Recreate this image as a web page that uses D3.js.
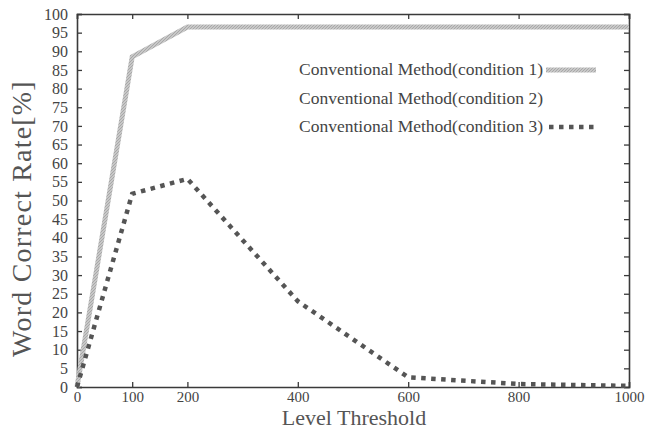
<!DOCTYPE html>
<html>
<head>
<meta charset="utf-8">
<script src="https://cdn.jsdelivr.net/npm/d3@7"></script>
<style>
  html, body { margin: 0; padding: 0; background: #fff; }
  svg { display: block; }
  text { font-family: "Liberation Serif", "DejaVu Serif", serif; }
</style>
</head>
<body>
<svg id="chart" width="649" height="430"></svg>
<script>
// Level thresholds and word correct rate [%] for each condition
const thresholds = [0, 100, 200, 400, 600, 800, 1000];
const condition1 = [0, 88.5, 96.5, 96.5, 96.5, 96.5, 96.5];
const condition3 = [0, 51.8, 55.8, 23, 2.6, 0.8, 0.3];
const xTicks = [0, 100, 200, 400, 600, 800, 1000];
const yTicks = d3.range(0, 101, 5);
const legendLabels = [
  "Conventional Method(condition 1)",
  "Conventional Method(condition 2)",
  "Conventional Method(condition 3)"
];

const svg = d3.select("#chart");
const margin = { left: 77, right: 20, top: 14, bottom: 43 };
const W = 649, H = 430;

const x = d3.scaleLinear().domain([0, 1000]).range([margin.left, W - margin.right]);
const y = d3.scaleLinear().domain([0, 100]).range([H - margin.bottom, margin.top]);

// hatched grey texture for the first series
const defs = svg.append("defs");
const pat = defs.append("pattern")
  .attr("id", "hatch")
  .attr("patternUnits", "userSpaceOnUse")
  .attr("width", 3).attr("height", 3);
pat.append("rect").attr("width", 3).attr("height", 3).attr("fill", "#c8c8c8");
pat.append("path").attr("d", "M0,3 L3,0").attr("stroke", "#a0a0a0").attr("stroke-width", 0.8);

const frameColor = "#3a3a3a";
const textColor = "#444";

// axes: labels outside, ticks pointing inward, mirrored on opposite sides
const gx = svg.append("g").attr("transform", `translate(0,${y(0)})`)
  .call(d3.axisBottom(x).tickValues(xTicks).tickSize(-5).tickPadding(4).tickFormat(d3.format("d")));
const gxTop = svg.append("g").attr("transform", `translate(0,${y(100)})`)
  .call(d3.axisTop(x).tickValues(xTicks).tickSize(-5).tickFormat(""));
const gy = svg.append("g").attr("transform", `translate(${x(0)},0)`)
  .call(d3.axisLeft(y).tickValues(yTicks).tickSize(-5).tickPadding(9).tickFormat(d3.format("d")));
const gyRight = svg.append("g").attr("transform", `translate(${x(1000)},0)`)
  .call(d3.axisRight(y).tickValues(yTicks).tickSize(-5).tickFormat(""));

[gx, gxTop, gy, gyRight].forEach(g => {
  g.select(".domain").attr("stroke", frameColor).attr("stroke-width", 1.6);
  g.selectAll(".tick line").attr("stroke", frameColor).attr("stroke-width", 1.3);
  g.selectAll(".tick text")
    .attr("fill", textColor)
    .style("font-family", '"Liberation Serif", serif')
    .style("font-size", "16px");
});
gx.selectAll(".tick text").style("font-size", "15px");

// axis titles
svg.append("text")
  .attr("x", (x(0) + x(1000)) / 2 + 1)
  .attr("y", 425)
  .attr("text-anchor", "middle")
  .attr("fill", "#555")
  .style("font-size", "22px")
  .text("Level Threshold");

svg.append("text")
  .attr("transform", `translate(31,${(y(0) + y(100)) / 2 + 18}) rotate(-90)`)
  .attr("text-anchor", "middle")
  .attr("fill", "#555")
  .style("font-size", "28px")
  .style("letter-spacing", "1.2px")
  .text("Word Correct Rate[%]");

// series lines
const line = d3.line().x(d => x(d[0])).y(d => y(d[1]));
const s1 = thresholds.map((t, i) => [t, condition1[i]]);
const s3 = thresholds.map((t, i) => [t, condition3[i]]);

svg.append("path")
  .datum(s1)
  .attr("d", line)
  .attr("fill", "none")
  .attr("stroke", "url(#hatch)")
  .attr("stroke-width", 5)
  .attr("stroke-linejoin", "miter");

svg.append("path")
  .datum(s3)
  .attr("d", line)
  .attr("fill", "none")
  .attr("stroke", "#555")
  .attr("stroke-width", 4.5)
  .attr("stroke-dasharray", "4.5,5.5");

// legend
const legendX = 543;
const legendY = [70, 99, 127];
const legend = svg.append("g");
legendLabels.forEach((lab, i) => {
  legend.append("text")
    .attr("x", legendX)
    .attr("y", legendY[i] + 5)
    .attr("text-anchor", "end")
    .attr("fill", textColor)
    .style("font-size", "17.5px")
    .text(lab);
});
legend.append("line")
  .attr("x1", legendX + 3).attr("x2", 596)
  .attr("y1", legendY[0]).attr("y2", legendY[0])
  .attr("stroke", "url(#hatch)").attr("stroke-width", 5);
legend.append("line")
  .attr("x1", legendX + 6).attr("x2", 596)
  .attr("y1", legendY[2]).attr("y2", legendY[2])
  .attr("stroke", "#555").attr("stroke-width", 4.5)
  .attr("stroke-dasharray", "4.5,5.5");
</script>
</body>
</html>
